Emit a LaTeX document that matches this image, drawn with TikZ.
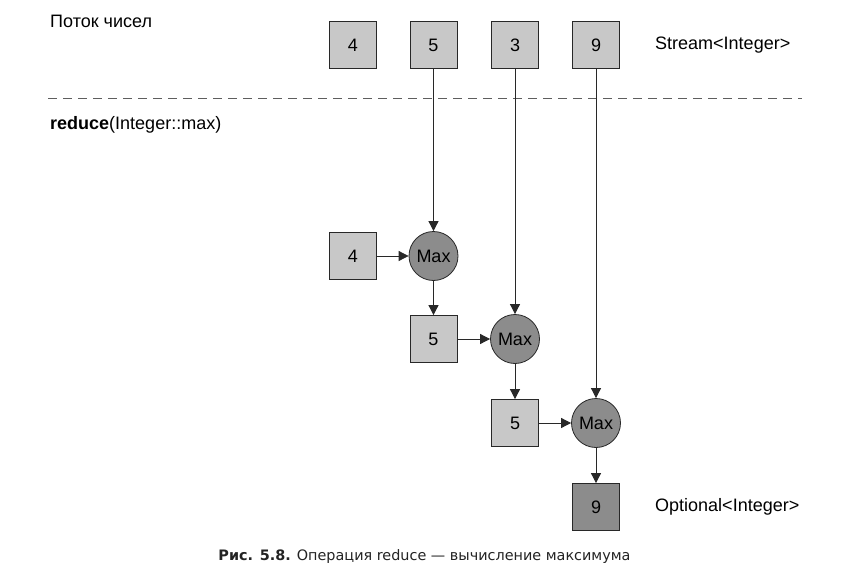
\documentclass[tikz,border=0pt]{standalone}
\usepackage{fontspec}
\setmainfont{Liberation Sans}
\newfontfamily\capfont{DejaVu Sans}
\usetikzlibrary{arrows.meta,positioning}
\definecolor{boxgray}{RGB}{200,200,200}
\definecolor{maxgray}{RGB}{140,140,140}
\definecolor{linegray}{RGB}{40,40,40}
\definecolor{capgray}{RGB}{35,35,35}
\tikzset{
    >={Triangle[length=10pt,width=10pt]},
    every node/.style={font=\fontsize{18}{21}\selectfont},
    item/.style={draw=linegray, line width=0.8pt, fill=boxgray,
        minimum size=47pt, inner sep=0pt},
    result/.style={item, fill=maxgray},
    maxop/.style={draw=linegray, line width=0.8pt, fill=maxgray,
        circle, minimum size=49pt, inner sep=0pt},
    flow/.style={->, draw=linegray, line width=0.8pt},
    label/.style={anchor=west, inner sep=0pt},
}

\begin{document}
\begin{tikzpicture}[x=1pt, y=-1pt]
    \useasboundingbox (0,0) rectangle (841,578);

    % stream of numbers
    \node[label] (title) at (50,21) {Поток чисел};
    \node[item] (s1) at (353,45) {4};
    \node[item] (s2) at (433.5,45) {5};
    \node[item] (s3) at (515,45) {3};
    \node[item] (s4) at (596,45) {9};
    \node[label] (stream) at (655,45) {Stream<Integer>};

    \coordinate (dl) at (48,98);
    \coordinate (dr) at (802,98);
    \draw[draw=linegray!75, line width=1pt, dash pattern=on 9pt off 6pt] (dl) -- (dr);

    \node[label] (op) at (50,125) {\textbf{reduce}(Integer::max)};

    % reduction steps
    \node[item] (a1) at (353,256) {4};
    \node[maxop] (m1) at (433.5,256) {Max};
    \node[item] (a2) at (433.5,339) {5};
    \node[maxop] (m2) at (515,339) {Max};
    \node[item] (a3) at (515,423) {5};
    \node[maxop] (m3) at (596,423) {Max};
    \node[result] (res) at (596,507) {9};
    \node[label] (optional) at (655,507) {Optional<Integer>};

    \draw[flow] (s2) -- (m1);
    \draw[flow] (s3) -- (m2);
    \draw[flow] (s4) -- (m3);
    \draw[flow] (a1) -- (m1);
    \draw[flow] (m1) -- (a2);
    \draw[flow] (a2) -- (m2);
    \draw[flow] (m2) -- (a3);
    \draw[flow] (a3) -- (m3);
    \draw[flow] (m3) -- (res);

    % caption
    \node[font=\capfont\fontsize{14.4}{17}\selectfont, text=capgray] (caption) at (424.5,557)
        {\textbf{Рис. 5.8.} Операция reduce — вычисление максимума};
\end{tikzpicture}
\end{document}
